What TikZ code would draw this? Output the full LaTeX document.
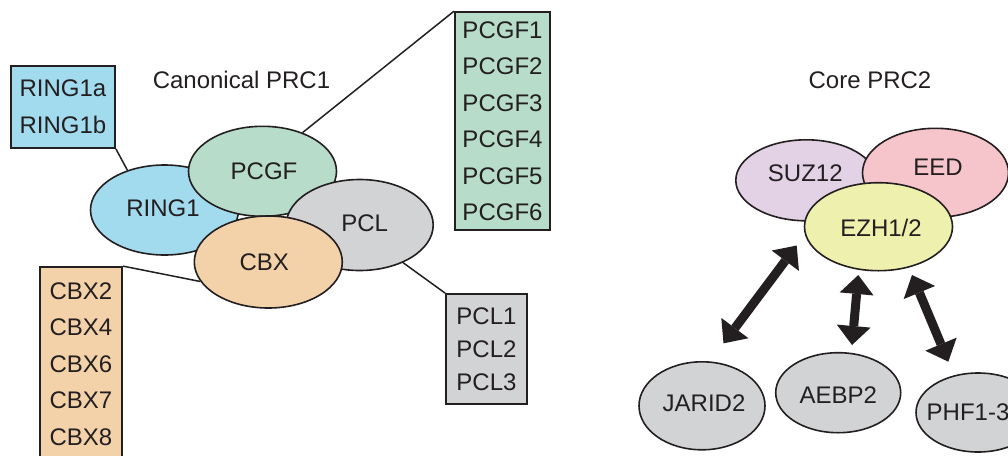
\documentclass[tikz,border=0pt]{standalone}
\usepackage{fontspec}
\setmainfont{Liberation Sans}
\usetikzlibrary{shapes.geometric,arrows.meta}
\definecolor{ink}{HTML}{231F20}
\definecolor{ringc}{HTML}{A2DBEE}
\definecolor{pcgfc}{HTML}{B7DDCA}
\definecolor{pclc}{HTML}{D2D3D5}
\definecolor{cbxc}{HTML}{F3D2AA}
\definecolor{suzc}{HTML}{E3D1E6}
\definecolor{eedc}{HTML}{F6C5CB}
\definecolor{ezhc}{HTML}{EEF0AE}
\definecolor{grayc}{HTML}{D2D3D5}
\begin{document}
\begin{tikzpicture}[x=1pt,y=-1pt,
  ell/.style={ellipse, draw=ink, line width=1.6pt, inner sep=0pt},
  lbl/.style={text=ink, font=\fontsize{24}{28}\selectfont, inner sep=0pt},
  lbox/.style={rectangle, draw=ink, line width=1.8pt, inner sep=0pt, text=ink, align=center, font=\fontsize{24}{36.5}\selectfont},
  conn/.style={draw=ink, line width=1.5pt},
  dbl/.style={draw=ink, line width=9pt, {Triangle[width=34pt,length=19pt,line width=0pt]}-{Triangle[width=34pt,length=19pt,line width=0pt]}},
  ttl/.style={text=ink, font=\fontsize{24}{28}\selectfont, inner sep=0pt}
]
\useasboundingbox (0,0) rectangle (1008,455);
\clip (0,0) rectangle (1008,455);

% ---------- Canonical PRC1 ----------
\node[ttl] (title1) at (241.5,80) {Canonical PRC1};

\node[lbox, fill=ringc, minimum width=104pt, minimum height=82pt, font=\fontsize{24}{36.7}\selectfont] (ring1box) at (63,107) {RING1a\\RING1b};
\node[lbox, fill=pcgfc, minimum width=95pt, minimum height=218pt] (pcgfbox) at (502.5,121) {PCGF1\\PCGF2\\PCGF3\\PCGF4\\PCGF5\\PCGF6};
\node[lbox, fill=cbxc, minimum width=82pt, minimum height=194pt] (cbxbox) at (81,364) {CBX2\\CBX4\\CBX6\\CBX7\\CBX8};
\node[lbox, fill=pclc, minimum width=81pt, minimum height=110pt, font=\fontsize{24}{33}\selectfont] (pclbox) at (486.5,349) {PCL1\\PCL2\\PCL3};

\node[ell, fill=ringc, minimum width=148pt, minimum height=90pt,
  label={[lbl,xshift=-1.5pt,yshift=2pt]center:RING1}] (ring1) at (164.5,210) {};
\node[ell, fill=pcgfc, minimum width=148pt, minimum height=90pt,
  label={[lbl,xshift=1.5pt]center:PCGF}] (pcgf) at (262.5,171.3) {};
\node[ell, fill=pclc, minimum width=147pt, minimum height=91pt,
  label={[lbl,xshift=5pt,yshift=2pt]center:PCL}] (pcl) at (359.7,225) {};
\node[ell, fill=cbxc, minimum width=148pt, minimum height=92pt,
  label={[lbl,xshift=-4pt]center:CBX}] (cbx) at (268.3,262) {};

\draw[conn] (ring1box.south east) -- (ring1.133);
\draw[conn] (pcgf.44) -- (pcgfbox.north west);
\draw[conn] (cbxbox.north east) -- (cbx.196);
\draw[conn] (pcl.319) -- (pclbox.north west);

% ---------- Core PRC2 ----------
\node[ttl] (title2) at (870,80) {Core PRC2};

\node[ell, fill=suzc, minimum width=141pt, minimum height=81pt,
  label={[lbl,xshift=-1pt,yshift=7pt]center:SUZ12}] (suz) at (806.3,180.3) {};
\node[ell, fill=eedc, minimum width=146pt, minimum height=89pt,
  label={[lbl,xshift=2.5pt,yshift=6pt]center:EED}] (eed) at (935.5,172.8) {};
\node[ell, fill=ezhc, minimum width=148pt, minimum height=88pt,
  label={[lbl,xshift=2.5pt,yshift=-1pt]center:EZH1/2}] (ezh) at (878.5,226.7) {};

\node[ell, fill=grayc, minimum width=126pt, minimum height=88pt,
  label={[lbl,xshift=2pt,yshift=3pt]center:JARID2}] (jarid) at (702,405.8) {};
\node[ell, fill=grayc, minimum width=125pt, minimum height=80pt,
  label={[lbl,yshift=-2pt]center:AEBP2}] (aebp) at (838.2,392.7) {};
\node[ell, fill=grayc, minimum width=124pt, minimum height=79pt,
  label={[lbl,xshift=-10pt]center:PHF1-3}] (phf) at (978,412.5) {};

\coordinate (a1lo) at (723.5,343.3);
\coordinate (a1hi) at (796.7,245.5);
\coordinate (a2lo) at (852,345);
\coordinate (a2hi) at (858.3,275);
\coordinate (a3lo) at (948.3,361.7);
\coordinate (a3hi) at (912,275);
\draw[dbl] (a1lo) -- (a1hi);
\draw[dbl] (a2lo) -- (a2hi);
\draw[dbl] (a3lo) -- (a3hi);
\end{tikzpicture}
\end{document}
